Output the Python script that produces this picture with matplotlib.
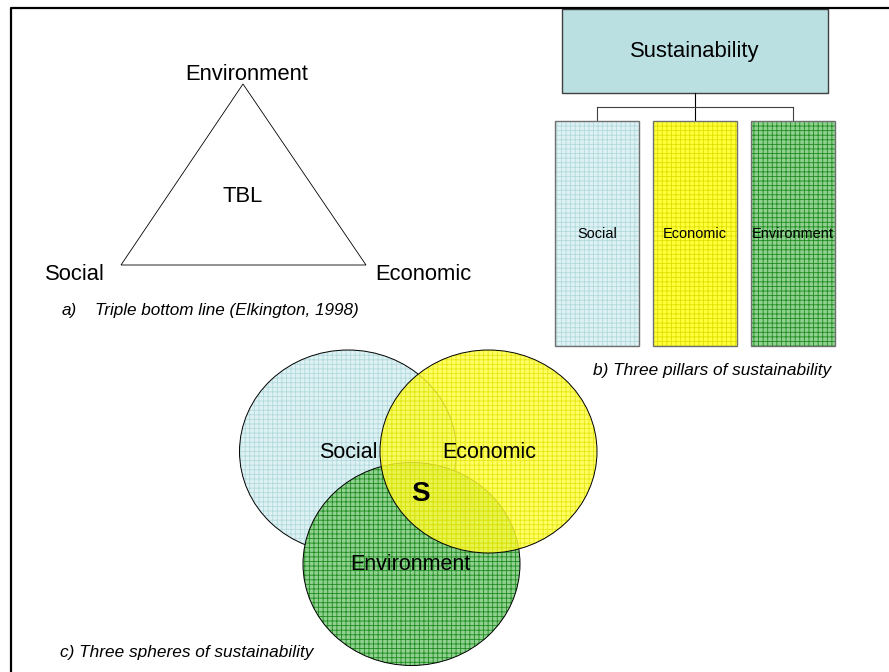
import matplotlib.pyplot as plt
from matplotlib.patches import Ellipse, Rectangle, Polygon

plt.rcParams['font.family'] = ['Liberation Sans', 'DejaVu Sans']
plt.rcParams['hatch.linewidth'] = 0.55

DPI = 110
PT = 100 / DPI  # sizes below were picked for 100 dpi

# --- content ---
triangle_corners = ["Environment", "Social", "Economic"]
triangle_centre = "TBL"
caption_a = ["a)", "Triple bottom line (Elkington, 1998)"]

root_label = "Sustainability"
pillar_labels = ["Social", "Economic", "Environment"]
caption_b = "b) Three pillars of sustainability"

sphere_labels = ["Social", "Environment", "Economic"]
core_label = "S"
caption_c = "c) Three spheres of sustainability"

# --- styling ---
face = {"Social": "#def1f3", "Economic": "#ffff3c", "Environment": "#90d090"}
grid = {"Social": "#b2dadd", "Economic": "#e0e000", "Environment": "#1f8c1f"}
root_colour = "#bae0e2"


def hatched(ax, patch_cls, args, name, z, alpha=1.0, edge="black", lw=0.8):
    ax.add_patch(patch_cls(*args, facecolor=face[name], edgecolor=grid[name],
                           hatch="++++", linewidth=0, alpha=alpha, zorder=z))
    ax.add_patch(patch_cls(*args, fill=False, edgecolor=edge, linewidth=lw * PT, zorder=z))


fig = plt.figure(figsize=(889 / DPI, 672 / DPI), dpi=DPI)
ax = fig.add_axes([0, 0, 1, 1])
ax.set_xlim(0, 889)
ax.set_ylim(672, 0)
ax.axis("off")

# frame
ax.plot([11, 11, 889], [672, 7.5, 7.5], color="black", lw=1.6 * PT, zorder=10)

# a) triangle
tri = [(243, 84), (121, 265), (366, 265)]
ax.add_patch(Polygon(tri, closed=True, fill=False, edgecolor="black", lw=0.6 * PT))
fs = 15.8 * PT
ax.text(247, 74, triangle_corners[0], fontsize=fs, ha="center", va="center")
ax.text(75, 275, triangle_corners[1], fontsize=fs, ha="center", va="center")
ax.text(423.5, 275, triangle_corners[2], fontsize=fs, ha="center", va="center")
ax.text(243, 196, triangle_centre, fontsize=fs, ha="center", va="center")
ax.text(62, 310, caption_a[0], fontsize=12.3 * PT, style="italic", ha="left", va="center")
ax.text(95, 310, caption_a[1], fontsize=12.3 * PT, style="italic", ha="left", va="center")

# b) pillars
ax.add_patch(Rectangle((562, 8.5), 266, 84.5, facecolor=root_colour,
                       edgecolor="#404040", lw=1.0 * PT, zorder=2))
ax.text(695, 51, root_label, fontsize=15.8 * PT, ha="center", va="center", zorder=5)
pillar_x = [555, 653, 751]
pillar_w = 84
pillar_top, pillar_bot = 121, 346
ax.plot([695, 695], [93, pillar_top], color="black", lw=0.8 * PT)
ax.plot([597, 793], [107, 107], color="#404040", lw=0.8 * PT)
for x0 in (pillar_x[0], pillar_x[2]):
    ax.plot([x0 + pillar_w / 2] * 2, [107, pillar_top], color="#404040", lw=0.8 * PT)
for x0, name in zip(pillar_x, pillar_labels):
    hatched(ax, Rectangle, ((x0, pillar_top), pillar_w, pillar_bot - pillar_top),
            name, 2, edge="#707070", lw=1.0)
    ax.text(x0 + pillar_w / 2, 234, name, fontsize=10.4 * PT, ha="center", va="center", zorder=5)
ax.text(712, 371, caption_b, fontsize=12.4 * PT, style="italic", ha="center", va="center")

# c) spheres
centres = [(348, 451.5), (411.5, 564), (488.5, 451.5)]
for i, (c, name) in enumerate(zip(centres, sphere_labels)):
    alpha = 0.8 if name == "Economic" else 1.0
    hatched(ax, Ellipse, (c, 217, 203), name, 3 + i, alpha=alpha, lw=0.7)
ax.text(348, 453, sphere_labels[0], fontsize=15.5 * PT, ha="center", va="center", zorder=8)
ax.text(489, 453, sphere_labels[2], fontsize=15.5 * PT, ha="center", va="center", zorder=8)
ax.text(410.5, 564, sphere_labels[1], fontsize=15.5 * PT, ha="center", va="center", zorder=8)
ax.text(420, 494, core_label, fontsize=20 * PT, fontweight="bold", ha="center", va="center", zorder=8)
ax.text(60, 652, caption_c, fontsize=12.4 * PT, style="italic", ha="left", va="center")

fig.savefig("out.png", dpi=DPI)
